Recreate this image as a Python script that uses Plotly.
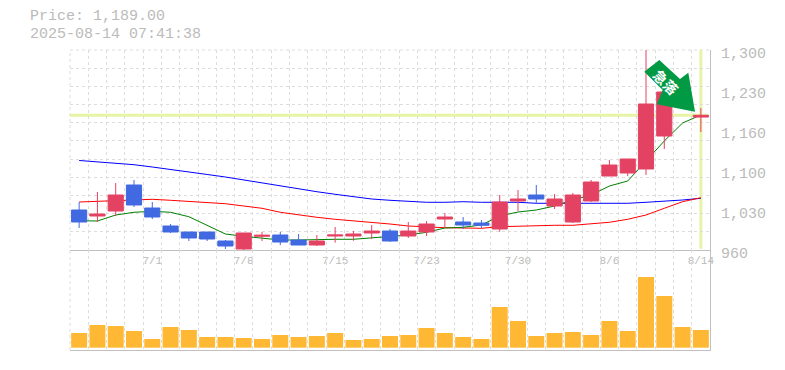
import plotly.graph_objects as go

dates = ["6/25","6/26","6/27","6/30","7/1","7/2","7/3","7/4","7/7","7/8","7/9","7/10","7/11","7/14","7/15","7/16","7/17","7/18","7/22","7/23","7/24","7/25","7/28","7/29","7/30","7/31","8/1","8/4","8/5","8/6","8/7","8/8","8/12","8/13","8/14"]
open_ = [1028,1017.8,1026.3,1070.5,1031.4,1000.8,990.6,990.6,975.3,961.7,983.3,985.5,977,968.5,983.8,983.8,988.9,992.3,983.8,990.6,1012.7,1007.6,1005.9,995.7,1043.3,1053.5,1034.8,1007.6,1043.3,1085.8,1090.9,1097.7,1153.8,1235.4,1186]
high = [1041.6,1058.6,1073.9,1079,1041.6,1004.2,990.6,990.6,977,988.9,990.6,990.6,987.2,985.5,999.1,992.3,1002.5,995.7,1007.6,1009.3,1022.9,1016.1,1011,1053.5,1062,1070.5,1055.2,1056.9,1079,1113,1114.7,1300,1235.4,1242.2,1201.4]
low = [997.4,1007.6,1017.8,1033.1,1012.7,988.9,975.3,975.3,961.7,958.3,975.3,968.5,968.5,966.8,972.4,975.8,978.7,973.6,980.4,983.8,997.4,995.7,997.4,991.1,1026.3,1038.2,1029.7,1005.9,1041.6,1085.8,1085.8,1087.5,1131.7,1206.5,1160.6]
close = [1007.6,1021.2,1053.5,1036.5,1016.1,990.6,980.4,978.7,966.8,988.9,985,973.6,968.5,975.3,985.5,987.2,992.3,975.3,992.3,1004.2,1016.1,1002.5,1002,1041.6,1046.7,1046.7,1046.7,1053.5,1075.6,1104.5,1114.7,1208.2,1228.6,1211.6,1189]
ma_short = [1009.8,1009.3,1019.5,1024.1,1025.8,1024.1,1016.6,1002.5,987.2,983.3,980.4,977,977,978.2,978.2,978.2,980.4,983.8,985.5,990.1,997.4,998.6,1002.5,1017.8,1024.6,1028,1034.8,1045,1053.5,1068.8,1077.3,1111.3,1145.3,1175.9,1189.5]
ma_mid = [1041.6,1042.8,1045,1046.2,1046.2,1044.5,1042.8,1041.1,1038.7,1034.8,1030.9,1024.1,1019.5,1015.6,1012.2,1009.8,1007.1,1004.2,1000.8,999.1,997.9,997.4,996.9,999.6,1000.3,1002,1002,1002,1004.2,1007.1,1012.2,1019.5,1030.9,1042.1,1048.9]
ma_long = [1112.2,1110.1,1107.9,1105,1101.1,1097.2,1092.6,1088.4,1084.1,1079,1073.9,1068.8,1063.2,1059.1,1054.7,1050.1,1046.7,1044.5,1042.8,1041.1,1041.1,1042.1,1041.1,1041.1,1041.1,1039.4,1039.4,1039.4,1039.4,1039.4,1039.4,1041.1,1042.8,1045,1047.9]
volume = [14.7,22.7,21.7,16.7,8.7,20.7,17.7,10.7,10.7,9.7,8.7,12.7,10.7,11.7,14.7,7.7,8.7,11.7,12.7,19.7,14.7,10.7,8.7,40.7,26.7,11.7,14.7,15.7,12.7,26.7,16.7,70.7,51.7,20.7,17.7]
price_ticks = [1300,1232,1164,1096,1028,960]
price_labels = ["1,300","1,230","1,160","1,100","1,030","960"]
date_tick_index = [4,9,14,19,24,29,34]
date_tick_labels = ["7/1","7/8","7/15","7/23","7/30","8/6","8/14"]

RED, BLUE, GRID, AXIS, TEXT = "#e44263", "#4169e1", "#dddddd", "#c0c0c0", "#bbbbbb"
FONT = "Liberation Mono"
n = len(dates)
xs = list(range(n))
x_edges = [i - 0.5 for i in range(n + 1)]
y_grid = [960 + 340 * i / 11 for i in range(12)]
xrange_ = [-0.5, n - 0.5]
yrange = [960, 1300]

def px(x):
    return (x - 70) / 640

def py(y):
    return (350 - y) / 300

fig = go.Figure()
for vals, col in ((ma_long, "#0000ff"), (ma_mid, "#ff0000"), (ma_short, "#008000")):
    fig.add_trace(go.Scatter(x=xs, y=vals, mode="lines", line=dict(color=col, width=1), xaxis="x", yaxis="y", showlegend=False, hoverinfo="skip"))
fig.add_trace(go.Candlestick(
    x=xs, open=open_, high=high, low=low, close=close, xaxis="x3", yaxis="y3", showlegend=False,
    whiskerwidth=0,
    increasing=dict(line=dict(color=RED, width=1), fillcolor=RED),
    decreasing=dict(line=dict(color=BLUE, width=1), fillcolor=BLUE),
))
fig.add_trace(go.Bar(x=xs, y=volume, marker=dict(color="#ffb833", line=dict(width=0)), xaxis="x2", yaxis="y2", showlegend=False))

grid_minor_x = dict(tickmode="array", tickvals=x_edges, showgrid=True, gridcolor=GRID, griddash="3px,3px", gridwidth=1, ticks="")
arrow = "M{} {} L{} {} L{} {} L{} {} L{} {} L{} {} L{} {} Z".format(
    px(659.3), py(60), px(644.3), py(71.7), px(662.7), py(90), px(656.7), py(104.3),
    px(695), py(111.7), px(688.3), py(72.7), px(680), py(79))
edge_line = dict(color=GRID, width=1, dash="3px,3px")

fig.update_layout(
    width=785, height=370, margin=dict(l=70, r=75, t=50, b=20, pad=0, autoexpand=False),
    paper_bgcolor="#ffffff", plot_bgcolor="#ffffff", bargap=0.125, boxgap=0.17, boxgroupgap=0,
    font=dict(family=FONT, color=TEXT), hovermode=False,
    xaxis=dict(domain=[0, 1], range=xrange_, anchor="y", tickmode="array", tickvals=date_tick_index, ticktext=date_tick_labels,
               tickfont=dict(family=FONT, size=11, color=TEXT), ticks="", showgrid=False, zeroline=False,
               showline=True, linecolor=AXIS, linewidth=1, minor=grid_minor_x),
    yaxis=dict(domain=[1/3, 1], range=yrange, side="right", anchor="x", tickmode="array", tickvals=price_ticks, ticktext=price_labels,
               tickfont=dict(family=FONT, size=15, color=TEXT), ticks="", showgrid=False, zeroline=False, ticklabelshift=3, ticklabelstandoff=7,
               showline=True, linecolor=AXIS, linewidth=1,
               minor=dict(tickmode="array", tickvals=y_grid, showgrid=True, gridcolor=GRID, griddash="3px,3px", gridwidth=1, ticks="")),
    xaxis2=dict(domain=[0, 1], range=xrange_, anchor="y2", showticklabels=False, ticks="", showgrid=False, zeroline=False,
                showline=True, linecolor=AXIS, linewidth=1, minor=grid_minor_x),
    yaxis2=dict(domain=[0, 1/3], range=[-2.3, 97.7], side="right", anchor="x2", showticklabels=False, ticks="", showgrid=False, zeroline=False,
                showline=True, linecolor=AXIS, linewidth=1),
    xaxis3=dict(range=xrange_, overlaying="x", anchor="y3", visible=False, rangeslider=dict(visible=False)),
    yaxis3=dict(domain=[1/3, 1], range=yrange, overlaying="y", anchor="x3", side="right", visible=False),
    shapes=[
        dict(type="line", xref="paper", yref="paper", x0=0, x1=1, y0=1, y1=1, line=edge_line, layer="below"),
        dict(type="line", xref="paper", yref="paper", x0=0, x1=0, y0=0, y1=1, line=edge_line, layer="below"),
        dict(type="line", xref="x", yref="y", x0=xrange_[0], x1=xrange_[1] - 0.1, y0=close[-1], y1=close[-1],
             line=dict(color="#e6f4a6", width=3), layer="below"),
        dict(type="line", xref="x", yref="y", x0=xs[-1], x1=xs[-1], y0=yrange[0] + 2, y1=yrange[1],
             line=dict(color="#e6f4a6", width=3), layer="below"),
        dict(type="path", xref="paper", yref="paper", path=arrow, fillcolor="#009944", line=dict(width=0), layer="above"),
    ],
    annotations=[
        dict(text="Price: 1,189.00", xref="paper", yref="paper", x=px(28), y=py(17), xanchor="left", yanchor="middle", showarrow=False,
             font=dict(family=FONT, size=15, color=TEXT)),
        dict(text="2025-08-14 07:41:38", xref="paper", yref="paper", x=px(28), y=py(34), xanchor="left", yanchor="middle", showarrow=False,
             font=dict(family=FONT, size=15, color=TEXT)),
        dict(text="急落", xref="paper", yref="paper", x=px(666), y=py(82), xanchor="center", yanchor="middle", showarrow=False, textangle=45,
             font=dict(family="Noto Sans CJK JP", size=14, color="#ffffff", weight="bold")),
    ],
)
fig.write_html("out.html", config=dict(displayModeBar=False), post_script="document.body.style.margin='0';")
